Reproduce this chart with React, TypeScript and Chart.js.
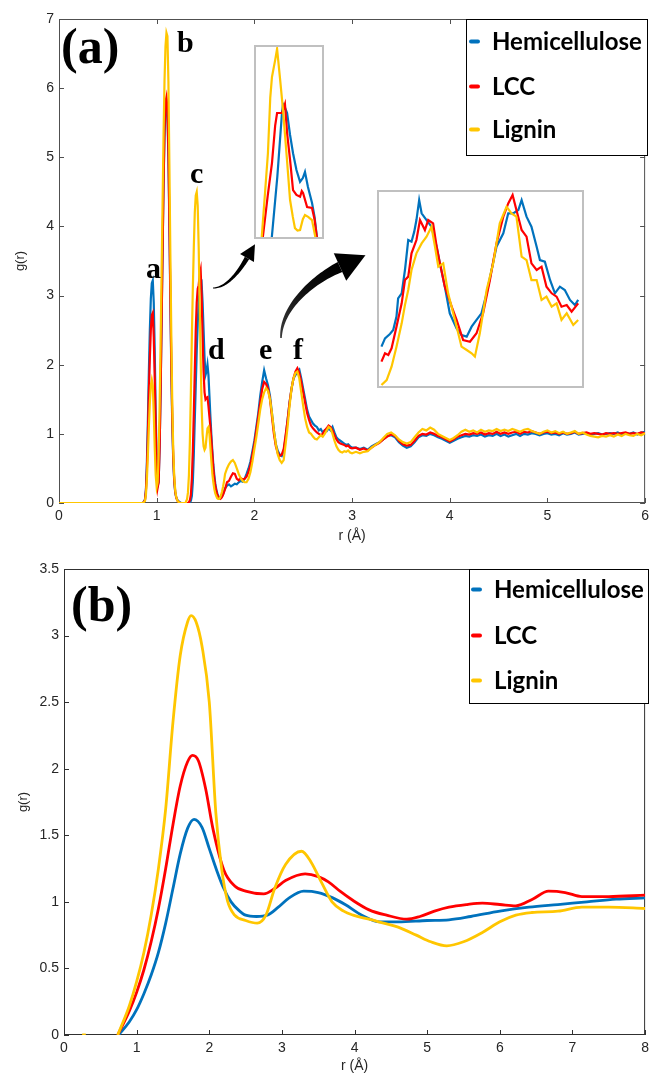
import { useEffect, useRef } from "react";
import { Chart, registerables } from "chart.js";

Chart.register(...registerables);

// ---------- colours ----------
const BLUE = "#0072BD";
const RED = "#FF0000";
const GOLD = "#FFC600";

const SERIES = ["Hemicellulose", "LCC", "Lignin"];

// ---------- panel (a): g(r) sampled on three r grids ----------
const R_A = [
  0.86, 0.87, 0.88, 0.89, 0.9, 0.91, 0.92, 0.93, 0.94, 0.95,
  0.96, 0.97, 0.98, 0.99, 1.0, 1.01, 1.02, 1.03, 1.04, 1.05,
  1.06, 1.07, 1.08, 1.09, 1.1, 1.11, 1.12, 1.13, 1.14, 1.15,
  1.16, 1.17, 1.18, 1.19, 1.2, 1.21, 1.22, 1.23, 1.24, 1.25,
  1.26, 1.27, 1.28, 1.29, 1.3, 1.31, 1.32, 1.33, 1.34, 1.35,
  1.36, 1.37, 1.38, 1.39, 1.4, 1.41, 1.42, 1.43, 1.44, 1.45,
  1.46, 1.47, 1.48, 1.49, 1.5, 1.51, 1.52, 1.53, 1.54, 1.55,
  1.56, 1.57, 1.58, 1.59, 1.6, 1.61, 1.62, 1.63, 1.64, 1.65,
  1.66, 1.67, 1.68, 1.69, 1.7,
];
const R_B = [
  1.72, 1.74, 1.76, 1.78, 1.8, 1.82, 1.84, 1.86, 1.88, 1.9,
  1.92, 1.94, 1.96, 1.98, 2.0, 2.02, 2.04, 2.06, 2.08, 2.1,
  2.12, 2.14, 2.16, 2.18, 2.2, 2.22, 2.24, 2.26, 2.28, 2.3,
  2.32, 2.34, 2.36, 2.38, 2.4, 2.42, 2.44, 2.46, 2.48, 2.5,
  2.52, 2.54, 2.56, 2.58, 2.6, 2.62, 2.64, 2.66, 2.68, 2.7,
  2.72, 2.74, 2.76, 2.78, 2.8, 2.82, 2.84, 2.86, 2.88, 2.9,
  2.92, 2.94, 2.96, 2.98, 3.0,
];
const R_C = [
  3.04, 3.08, 3.12, 3.16, 3.2, 3.24, 3.28, 3.32, 3.36, 3.4,
  3.44, 3.48, 3.52, 3.56, 3.6, 3.64, 3.68, 3.72, 3.76, 3.8,
  3.84, 3.88, 3.92, 3.96, 4.0, 4.04, 4.08, 4.12, 4.16, 4.2,
  4.24, 4.28, 4.32, 4.36, 4.4, 4.44, 4.48, 4.52, 4.56, 4.6,
  4.64, 4.68, 4.72, 4.76, 4.8, 4.84, 4.88, 4.92, 4.96, 5.0,
  5.04, 5.08, 5.12, 5.16, 5.2, 5.24, 5.28, 5.32, 5.36, 5.4,
  5.44, 5.48, 5.52, 5.56, 5.6, 5.64, 5.68, 5.72, 5.76, 5.8,
  5.84, 5.88, 5.92, 5.96, 6.0,
];

const HEMI_A = [
  0, 0, 0.05, 0.2, 0.6, 1.2, 1.9, 2.5, 2.95, 3.18,
  3.22, 2.9, 2.2, 1.3, 0.6, 0.25, 0.3, 0.8, 1.6, 2.6,
  3.6, 4.6, 5.3, 5.7, 5.78, 5.6, 5.0, 4.0, 2.9, 1.9,
  1.1, 0.6, 0.3, 0.15, 0.08, 0.05, 0.03, 0.02, 0.01, 0,
  0, 0, 0, 0, 0, 0, 0, 0, 0.01, 0.03,
  0.1, 0.3, 0.7, 1.2, 1.7, 2.2, 2.6, 2.9, 3.1, 3.15,
  3.18, 2.9, 2.5, 2.1, 1.85, 1.9, 2.0, 1.85, 1.55, 1.25,
  0.98, 0.75, 0.55, 0.4, 0.28, 0.2, 0.14, 0.1, 0.08, 0.07,
  0.08, 0.1, 0.13, 0.17, 0.21,
];
const LCC_A = [
  0, 0, 0.04, 0.18, 0.5, 1.0, 1.6, 2.1, 2.5, 2.72,
  2.75, 2.4, 1.8, 1.1, 0.5, 0.22, 0.3, 0.8, 1.6, 2.6,
  3.6, 4.6, 5.4, 5.8, 5.87, 5.7, 5.1, 4.1, 3.0, 2.0,
  1.2, 0.65, 0.32, 0.16, 0.08, 0.04, 0.02, 0.01, 0, 0,
  0, 0, 0, 0, 0, 0, 0, 0.01, 0.04, 0.12,
  0.35, 0.75, 1.3, 1.9, 2.5, 2.9, 3.1, 3.15, 3.3, 3.37,
  3.0, 2.4, 1.9, 1.6, 1.5, 1.52, 1.53, 1.4, 1.25, 1.1,
  0.9, 0.7, 0.5, 0.35, 0.25, 0.18, 0.12, 0.09, 0.07, 0.06,
  0.07, 0.09, 0.12, 0.16, 0.2,
];
const LIGNIN_A = [
  0, 0, 0.03, 0.12, 0.35, 0.7, 1.1, 1.45, 1.7, 1.78,
  1.7, 1.3, 0.8, 0.4, 0.23, 0.3, 0.7, 1.4, 2.3, 3.3,
  4.3, 5.3, 6.1, 6.6, 6.8, 6.75, 6.1, 4.9, 3.6, 2.4,
  1.4, 0.75, 0.38, 0.18, 0.09, 0.04, 0.02, 0.01, 0, 0,
  0, 0, 0, 0, 0.02, 0.05, 0.15, 0.4, 0.9, 1.6,
  2.4, 3.1, 3.7, 4.2, 4.45, 4.5, 4.3, 3.7, 2.9, 2.1,
  1.4, 1.0, 0.82, 0.77, 0.8, 0.95, 1.08, 1.1, 1.0, 0.8,
  0.6, 0.42, 0.3, 0.2, 0.14, 0.1, 0.07, 0.06, 0.06, 0.08,
  0.12, 0.17, 0.24, 0.32, 0.42,
];

const HEMI_B = [
  0.25, 0.27, 0.24, 0.26, 0.28, 0.27, 0.3, 0.32, 0.31, 0.35,
  0.42, 0.5, 0.6, 0.75, 0.9, 1.1, 1.3, 1.55, 1.75, 1.92,
  1.8, 1.7, 1.55, 1.3, 1.05, 0.85, 0.75, 0.7, 0.68, 0.75,
  0.95, 1.2, 1.45, 1.65, 1.8, 1.85, 1.9, 1.93, 1.8, 1.65,
  1.5, 1.35, 1.25, 1.2, 1.15, 1.12, 1.1, 1.05, 1.07, 1.02,
  1.05, 1.04, 1.08, 1.05, 1.1, 1.02, 0.95, 0.92, 0.9, 0.88,
  0.86, 0.84, 0.85, 0.82, 0.8,
];
const LCC_B = [
  0.3, 0.32, 0.38, 0.43, 0.42, 0.35, 0.33, 0.36, 0.34, 0.35,
  0.38, 0.45, 0.55, 0.7, 0.85, 1.05, 1.25, 1.45, 1.65, 1.75,
  1.72, 1.65, 1.5, 1.25, 1.0, 0.82, 0.72, 0.68, 0.7, 0.78,
  0.98, 1.2, 1.45, 1.65, 1.8, 1.9, 1.95, 1.88, 1.75, 1.6,
  1.45, 1.3, 1.2, 1.12, 1.08, 1.05, 1.02, 1.0, 0.98, 1.0,
  1.05, 1.08, 1.12, 1.1, 1.05, 0.98, 0.92, 0.88, 0.86, 0.85,
  0.84, 0.82, 0.83, 0.8, 0.79,
];
const LIGNIN_B = [
  0.5, 0.56, 0.6, 0.62, 0.58, 0.5, 0.42, 0.36, 0.32, 0.3,
  0.3, 0.35, 0.45, 0.6, 0.78, 0.95, 1.15, 1.35, 1.5, 1.6,
  1.66, 1.62, 1.5, 1.3, 1.05, 0.85, 0.7, 0.62, 0.58, 0.62,
  0.85, 1.1, 1.4, 1.65, 1.8, 1.88, 1.9, 1.8, 1.6, 1.4,
  1.22, 1.1, 1.02, 1.0, 0.96, 0.93, 0.92, 0.95, 0.98, 0.96,
  1.0, 1.05, 1.1, 1.08, 1.0, 0.9, 0.82, 0.77, 0.74, 0.73,
  0.75, 0.74, 0.76, 0.73, 0.72,
];

const HEMI_C = [
  0.8, 0.78, 0.8, 0.77, 0.82, 0.85, 0.88, 0.92, 0.97, 0.98,
  0.95, 0.88, 0.83, 0.8, 0.82, 0.88, 0.95, 0.98, 0.97, 1.0,
  0.98, 0.95, 0.93, 0.9, 0.87, 0.9, 0.93, 0.95, 0.97, 0.96,
  0.98, 0.97, 0.99, 0.96, 0.98, 0.97, 1.0, 0.97, 0.99, 0.96,
  0.98, 1.0, 0.97, 1.0, 0.99, 1.01, 1.0, 0.98, 1.0, 1.01,
  0.99, 1.0, 0.98, 1.01, 0.99, 1.0, 1.02, 0.99, 1.0, 1.01,
  0.99, 1.0, 1.01, 0.99, 1.0, 1.01, 1.0, 1.02, 0.99, 1.01,
  1.0, 1.02, 0.99, 1.02, 1.03,
];
const LCC_C = [
  0.8, 0.77, 0.79, 0.76, 0.8, 0.84, 0.87, 0.92, 0.96, 0.99,
  0.97, 0.9, 0.85, 0.83, 0.84, 0.9, 0.97, 1.0, 0.99, 1.02,
  1.0, 0.97, 0.95, 0.92, 0.89, 0.92, 0.96, 0.98, 1.0, 0.99,
  1.01, 1.0, 1.02, 0.99, 1.01, 1.0, 1.03, 1.0, 1.02, 1.0,
  1.02, 1.03, 1.0, 1.03, 1.02, 1.04, 1.02, 1.0, 1.02, 1.03,
  1.01, 1.02, 1.0, 1.02, 1.0, 1.01, 1.03, 1.0, 1.01, 1.02,
  1.0, 1.01, 1.0, 0.99, 1.01, 1.0, 1.01, 1.0, 1.01, 1.02,
  1.0, 1.01, 1.0, 1.02, 1.01,
];
const LIGNIN_C = [
  0.74, 0.72, 0.74, 0.75, 0.8, 0.84, 0.88, 0.94, 1.0, 1.02,
  0.98, 0.92, 0.88, 0.86, 0.88, 0.95, 1.02, 1.07, 1.05, 1.09,
  1.06, 1.0, 0.97, 0.94, 0.91, 0.94, 0.98, 1.03, 1.06, 1.03,
  1.05, 1.02, 1.06, 1.03, 1.05, 1.04, 1.07, 1.04, 1.06, 1.04,
  1.07, 1.05, 1.03, 1.06, 1.07, 1.04, 1.02, 1.0, 1.03, 1.05,
  1.02, 1.04, 1.01, 1.03, 1.0, 1.02, 1.04, 1.0, 1.02, 0.99,
  0.97, 0.96, 0.95, 0.97, 0.96, 0.98, 0.96, 0.99, 0.97, 1.0,
  0.98, 0.97, 1.0, 0.98, 1.01,
];

// ---------- close-up of peak c (r, g) ----------
const ZOOM_C_HEMI = [
  [1.377, 0.4], [1.405, 1.8], [1.427, 3.17], [1.432, 3.36], [1.44, 3.3], [1.451, 3.17],
  [1.465, 2.7], [1.479, 2.31], [1.495, 1.95], [1.512, 1.7], [1.525, 1.78], [1.535, 1.91],
  [1.549, 1.59], [1.568, 1.25], [1.58, 0.95], [1.594, 0.4],
];
const ZOOM_C_LCC = [
  [1.334, 0.4], [1.36, 1.4], [1.38, 2.1], [1.395, 2.9], [1.404, 3.17], [1.427, 3.17],
  [1.441, 3.36], [1.452, 2.7], [1.465, 2.17], [1.479, 1.52], [1.495, 1.42], [1.512, 1.38],
  [1.52, 1.5], [1.526, 1.46], [1.545, 1.16], [1.568, 1.14], [1.58, 0.9], [1.594, 0.4],
];
const ZOOM_C_LIGNIN = [
  [1.33, 0.4], [1.348, 1.5], [1.361, 2.31], [1.372, 3.5], [1.38, 3.94], [1.395, 4.3],
  [1.404, 4.54], [1.418, 3.9], [1.432, 3.23], [1.45, 2.2], [1.465, 1.31], [1.478, 0.95],
  [1.488, 0.71], [1.5, 0.66], [1.512, 0.67], [1.525, 0.9], [1.535, 0.99], [1.55, 0.95],
  [1.568, 0.88], [1.589, 0.4],
];

// ---------- close-up of peaks e and f (r, g) ----------
const ZOOM_EF_HEMI = [
  [1.963, 0.592], [1.976, 0.667], [1.994, 0.707], [2.006, 0.743], [2.018, 0.864], [2.024, 1.03],
  [2.037, 1.075], [2.049, 1.286], [2.061, 1.557], [2.073, 1.542], [2.083, 1.633], [2.091, 1.738],
  [2.101, 1.919], [2.11, 1.799], [2.128, 1.738], [2.146, 1.678], [2.165, 1.497], [2.177, 1.346],
  [2.195, 1.135], [2.213, 0.894], [2.238, 0.758], [2.256, 0.698], [2.275, 0.683], [2.293, 0.773],
  [2.311, 0.834], [2.329, 0.894], [2.348, 1.075], [2.366, 1.286], [2.384, 1.497], [2.409, 1.618],
  [2.427, 1.799], [2.445, 1.799], [2.464, 1.829], [2.476, 1.919], [2.494, 1.769], [2.512, 1.678],
  [2.531, 1.497], [2.543, 1.376], [2.561, 1.361], [2.58, 1.196], [2.598, 1.075], [2.616, 1.135],
  [2.634, 1.105], [2.653, 1.015], [2.671, 0.969], [2.683, 1.015],
];
const ZOOM_EF_LCC = [
  [1.963, 0.456], [1.976, 0.532], [1.988, 0.517], [2.0, 0.577], [2.018, 0.773], [2.037, 0.984],
  [2.049, 1.195], [2.061, 1.226], [2.073, 1.437], [2.091, 1.557], [2.104, 1.738], [2.122, 1.648],
  [2.134, 1.738], [2.152, 1.708], [2.165, 1.497], [2.177, 1.346], [2.195, 1.135], [2.22, 0.954],
  [2.238, 0.834], [2.262, 0.652], [2.287, 0.637], [2.311, 0.713], [2.335, 0.894], [2.36, 1.195],
  [2.384, 1.527], [2.409, 1.769], [2.427, 1.889], [2.443, 1.965], [2.457, 1.829], [2.476, 1.648],
  [2.494, 1.588], [2.512, 1.346], [2.531, 1.286], [2.549, 1.316], [2.567, 1.135], [2.586, 1.075],
  [2.604, 1.045], [2.622, 0.954], [2.641, 0.969], [2.659, 0.909], [2.683, 0.984],
];
const ZOOM_EF_LIGNIN = [
  [1.963, 0.245], [1.982, 0.29], [2.0, 0.411], [2.018, 0.592], [2.037, 0.803], [2.049, 0.969],
  [2.061, 1.105], [2.073, 1.286], [2.091, 1.437], [2.11, 1.527], [2.128, 1.588], [2.146, 1.678],
  [2.159, 1.497], [2.171, 1.316], [2.189, 1.346], [2.207, 1.075], [2.232, 0.834], [2.256, 0.592],
  [2.275, 0.562], [2.293, 0.532], [2.305, 0.502], [2.323, 0.713], [2.348, 1.105], [2.372, 1.346],
  [2.396, 1.708], [2.421, 1.859], [2.439, 1.799], [2.457, 1.769], [2.476, 1.407], [2.494, 1.376],
  [2.512, 1.195], [2.531, 1.195], [2.549, 1.015], [2.567, 1.045], [2.586, 0.954], [2.604, 0.984],
  [2.622, 0.834], [2.641, 0.894], [2.665, 0.788], [2.683, 0.834],
];

// ---------- panel (b): smooth g(r) curves (r, g) ----------
const HEMI_RDF = [
  [0.75, 0], [0.9, 0.1], [1.0, 0.19], [1.1, 0.31], [1.2, 0.45], [1.3, 0.62], [1.4, 0.84],
  [1.5, 1.1], [1.6, 1.36], [1.7, 1.55], [1.79, 1.62], [1.9, 1.56], [2.0, 1.4], [2.1, 1.24],
  [2.2, 1.1], [2.3, 1.0], [2.4, 0.94], [2.5, 0.9], [2.65, 0.89], [2.8, 0.9], [2.95, 0.96],
  [3.1, 1.03], [3.3, 1.08], [3.5, 1.07], [3.7, 1.03], [3.87, 0.98], [4.1, 0.9], [4.35, 0.85],
  [4.6, 0.85], [5.0, 0.86], [5.3, 0.865], [5.6, 0.89], [6.0, 0.93], [6.4, 0.96], [6.8, 0.98],
  [7.2, 1.0], [7.6, 1.02], [8.0, 1.03],
];
const LCC_RDF = [
  [0.74, 0], [0.9, 0.18], [1.0, 0.32], [1.1, 0.49], [1.2, 0.7], [1.3, 0.95], [1.4, 1.25],
  [1.5, 1.58], [1.6, 1.87], [1.7, 2.05], [1.77, 2.1], [1.85, 2.06], [1.95, 1.85], [2.05, 1.55],
  [2.2, 1.24], [2.35, 1.12], [2.5, 1.08], [2.75, 1.06], [2.9, 1.1], [3.05, 1.16], [3.32, 1.21],
  [3.5, 1.19], [3.64, 1.15], [3.8, 1.08], [3.98, 1.01], [4.2, 0.94], [4.44, 0.9], [4.72, 0.87],
  [4.9, 0.89], [5.1, 0.93], [5.3, 0.96], [5.55, 0.98], [5.76, 0.99], [6.0, 0.98], [6.22, 0.97],
  [6.45, 1.02], [6.67, 1.08], [6.9, 1.07], [7.13, 1.04], [7.5, 1.04], [8.0, 1.05],
];
const LIGNIN_RDF = [
  [0.25, 0], [0.3, 0], [0.5, null], [0.74, 0], [0.9, 0.22], [1.0, 0.4], [1.1, 0.62], [1.2, 0.9],
  [1.3, 1.25], [1.4, 1.7], [1.5, 2.35], [1.6, 2.85], [1.7, 3.1], [1.75, 3.15], [1.82, 3.1],
  [1.9, 2.92], [2.0, 2.5], [2.09, 1.67], [2.17, 1.25], [2.25, 1.01], [2.35, 0.9], [2.5, 0.86],
  [2.66, 0.84], [2.78, 0.9], [2.9, 1.1], [3.05, 1.28], [3.27, 1.38], [3.4, 1.3], [3.55, 1.14],
  [3.69, 1.0], [3.85, 0.93], [3.98, 0.9], [4.2, 0.87], [4.4, 0.84], [4.6, 0.81], [4.85, 0.75],
  [5.05, 0.7], [5.27, 0.67], [5.5, 0.7], [5.76, 0.77], [6.0, 0.85], [6.22, 0.9], [6.44, 0.92],
  [6.8, 0.93], [7.13, 0.96], [7.5, 0.96], [8.0, 0.95],
];

// ---------- helpers ----------
const zipXY = (xs: number[], ys: number[]) => xs.map((x, i) => ({ x, y: ys[i] }));
const pairs = (list: any[]) => list.map(([x, y]) => ({ x, y }));

const TICK_FONT = { family: "'Liberation Sans', Arial, sans-serif", size: 14 };
const TICK_COLOR = "#262626";

function lineSet(label: string, color: string, data: any[], width: number, order: number, extra: any = {}) {
  return {
    label,
    data,
    borderColor: color,
    backgroundColor: color,
    borderWidth: width,
    pointRadius: 0,
    fill: false,
    tension: 0,
    order,
    ...extra,
  };
}

// frame round the plot area with inward tick marks
function framePlugin(color: string, mirror: boolean) {
  return {
    id: "frame",
    beforeDatasetsDraw(chart: any) {
      const { ctx, chartArea: a, scales } = chart;
      const L = 5;
      ctx.save();
      ctx.strokeStyle = color;
      ctx.lineWidth = 1;
      ctx.strokeRect(a.left + 0.5, a.top + 0.5, a.right - a.left - 1, a.bottom - a.top - 1);
      ctx.beginPath();
      scales.x.ticks.forEach((t: any) => {
        const p = Math.round(scales.x.getPixelForValue(t.value)) + 0.5;
        ctx.moveTo(p, a.bottom);
        ctx.lineTo(p, a.bottom - L);
        if (mirror) {
          ctx.moveTo(p, a.top);
          ctx.lineTo(p, a.top + L);
        }
      });
      scales.y.ticks.forEach((t: any) => {
        const p = Math.round(scales.y.getPixelForValue(t.value)) + 0.5;
        ctx.moveTo(a.left, p);
        ctx.lineTo(a.left + L, p);
        if (mirror) {
          ctx.moveTo(a.right, p);
          ctx.lineTo(a.right - L, p);
        }
      });
      ctx.stroke();
      ctx.restore();
    },
  };
}

function drawAxisTitles(ctx: any, a: any, xTitleY: number, yTitleX: number) {
  ctx.save();
  ctx.fillStyle = TICK_COLOR;
  ctx.font = "14px 'Liberation Sans', Arial, sans-serif";
  ctx.textAlign = "center";
  ctx.textBaseline = "middle";
  ctx.fillText("r (Å)", (a.left + a.right) / 2, xTitleY);
  ctx.translate(yTitleX, (a.top + a.bottom) / 2);
  ctx.rotate(-Math.PI / 2);
  ctx.font = "13px 'Liberation Sans', Arial, sans-serif";
  ctx.fillText("g(r)", 0, 0);
  ctx.restore();
}

function drawLegend(ctx: any, datasets: any[], box: any, baselines: number[], dashX: number, textX: number) {
  ctx.save();
  ctx.fillStyle = "#fff";
  ctx.fillRect(box.x, box.y, box.w, box.h);
  ctx.strokeStyle = "#000";
  ctx.lineWidth = 1;
  ctx.strokeRect(box.x + 0.5, box.y + 0.5, box.w - 1, box.h - 1);
  ctx.font = "bold 24px Lato, 'Open Sans', sans-serif";
  ctx.textBaseline = "alphabetic";
  ctx.lineCap = "round";
  datasets.forEach((ds, i) => {
    const y = baselines[i];
    ctx.strokeStyle = ds.borderColor;
    ctx.lineWidth = 4;
    ctx.beginPath();
    ctx.moveTo(dashX, y - 8.5);
    ctx.lineTo(dashX + 7, y - 8.5);
    ctx.stroke();
    ctx.fillStyle = "#000";
    ctx.fillText(ds.label, textX, y);
  });
  ctx.restore();
}

function bez(p: number[][], t: number) {
  const u = 1 - t;
  const a = u * u * u, b = 3 * u * u * t, c = 3 * u * t * t, d = t * t * t;
  return [
    a * p[0][0] + b * p[1][0] + c * p[2][0] + d * p[3][0],
    a * p[0][1] + b * p[1][1] + c * p[2][1] + d * p[3][1],
  ];
}
function bezD(p: number[][], t: number) {
  const u = 1 - t;
  const dx = 3 * u * u * (p[1][0] - p[0][0]) + 6 * u * t * (p[2][0] - p[1][0]) + 3 * t * t * (p[3][0] - p[2][0]);
  const dy = 3 * u * u * (p[1][1] - p[0][1]) + 6 * u * t * (p[2][1] - p[1][1]) + 3 * t * t * (p[3][1] - p[2][1]);
  const l = Math.hypot(dx, dy) || 1;
  return [dx / l, dy / l];
}

// curved, tapering arrow along a cubic Bezier
function drawCurvedArrow(ctx: any, p: number[][], w0: number, w1: number, headHalf: number, headLen: number, dark: boolean) {
  const N = 40;
  const left: number[][] = [];
  const right: number[][] = [];
  for (let i = 0; i <= N; i++) {
    const t = i / N;
    const q = bez(p, t);
    const d = bezD(p, t);
    const w = w0 + (w1 - w0) * t;
    left.push([q[0] - d[1] * w, q[1] + d[0] * w]);
    right.push([q[0] + d[1] * w, q[1] - d[0] * w]);
  }
  ctx.save();
  let fill: any = "#000";
  if (dark) {
    const g = ctx.createLinearGradient(p[0][0], p[0][1], p[3][0], p[3][1]);
    g.addColorStop(0, "#3a3a3a");
    g.addColorStop(0.6, "#0c0c0c");
    g.addColorStop(1, "#000");
    fill = g;
  }
  ctx.fillStyle = fill;
  ctx.beginPath();
  ctx.moveTo(left[0][0], left[0][1]);
  left.forEach((pt) => ctx.lineTo(pt[0], pt[1]));
  for (let i = right.length - 1; i >= 0; i--) ctx.lineTo(right[i][0], right[i][1]);
  ctx.closePath();
  ctx.fill();
  const e = p[3];
  const d = bezD(p, 1);
  ctx.fillStyle = "#000";
  ctx.beginPath();
  ctx.moveTo(e[0] - d[1] * headHalf, e[1] + d[0] * headHalf);
  ctx.lineTo(e[0] + d[0] * headLen, e[1] + d[1] * headLen);
  ctx.lineTo(e[0] + d[1] * headHalf, e[1] - d[0] * headHalf);
  ctx.closePath();
  ctx.fill();
  ctx.restore();
}

function drawSerif(ctx: any, text: string, x: number, y: number, size: number) {
  ctx.save();
  ctx.fillStyle = "#000";
  ctx.font = `bold ${size}px 'Liberation Serif', 'Times New Roman', serif`;
  ctx.textBaseline = "alphabetic";
  ctx.textAlign = "left";
  ctx.fillText(text, x, y);
  ctx.restore();
}

const PEAK_LABELS = [
  { t: "a", x: 146, y: 278 },
  { t: "b", x: 177, y: 52 },
  { t: "c", x: 190, y: 183 },
  { t: "d", x: 208, y: 359 },
  { t: "e", x: 259, y: 359 },
  { t: "f", x: 293, y: 359 },
];

const decorTop = {
  id: "decorTop",
  afterDraw(chart: any) {
    const { ctx, chartArea: a } = chart;
    drawAxisTitles(ctx, a, 536, 20);
    drawSerif(ctx, "(a)", 61, 63, 50);
    PEAK_LABELS.forEach((p) => drawSerif(ctx, p.t, p.x, p.y, 30));
    drawCurvedArrow(ctx, [[213, 288], [228, 288], [241, 268.4], [247, 258]], 0.5, 2.5, 8, 16, false);
    drawCurvedArrow(ctx, [[281, 338], [281, 305], [317, 277.5], [340, 267]], 0.8, 5.5, 15, 28, true);
    drawLegend(ctx, chart.data.datasets, { x: 466, y: 19, w: 182, h: 137 }, [50, 95, 138], 471, 492);
  },
};

const decorBottom = {
  id: "decorBottom",
  afterDraw(chart: any) {
    const { ctx, chartArea: a } = chart;
    drawAxisTitles(ctx, a, 521, 23);
    drawSerif(ctx, "(b)", 71, 76, 50);
    drawLegend(ctx, chart.data.datasets, { x: 469, y: 24, w: 180, h: 135 }, [53, 99, 144], 473, 494);
  },
};

function axisOptions(min: number, max: number, step: number, fit: (s: any) => void) {
  return {
    type: "linear",
    min,
    max,
    ticks: {
      stepSize: step,
      font: TICK_FONT,
      color: TICK_COLOR,
      padding: 5,
      maxRotation: 0,
      autoSkip: false,
      callback: (v: any) => `${Number(v)}`,
    },
    grid: { display: false, drawTicks: false },
    border: { display: false },
    afterFit: fit,
  };
}

function insetOptions(xmin: number, xmax: number, ymin: number, ymax: number) {
  return {
    responsive: false,
    animation: false,
    events: [],
    layout: { padding: 0 },
    plugins: { legend: { display: false }, tooltip: { enabled: false } },
    scales: {
      x: { type: "linear", display: false, min: xmin, max: xmax },
      y: { type: "linear", display: false, min: ymin, max: ymax },
    },
  };
}

export default function App() {
  const topRef = useRef<HTMLCanvasElement>(null);
  const bottomRef = useRef<HTMLCanvasElement>(null);
  const zoomCRef = useRef<HTMLCanvasElement>(null);
  const zoomEFRef = useRef<HTMLCanvasElement>(null);

  useEffect(() => {
    const charts: Chart[] = [];

    const top = (xs: number[][], ys: number[][]) =>
      [{ x: 0, y: 0 }, ...zipXY(xs[0], ys[0]), ...zipXY(xs[1], ys[1]), ...zipXY(xs[2], ys[2])];
    const grids = [R_A, R_B, R_C];

    charts.push(
      new Chart(topRef.current as HTMLCanvasElement, {
        type: "line",
        data: {
          datasets: [
            lineSet(SERIES[0], BLUE, top(grids, [HEMI_A, HEMI_B, HEMI_C]), 2.2, 2),
            lineSet(SERIES[1], RED, top(grids, [LCC_A, LCC_B, LCC_C]), 2.2, 1),
            lineSet(SERIES[2], GOLD, top(grids, [LIGNIN_A, LIGNIN_B, LIGNIN_C]), 2.2, 0),
          ],
        },
        options: {
          responsive: false,
          animation: false,
          events: [],
          layout: { padding: { top: 19, right: 7, left: 0, bottom: 0 } },
          plugins: { legend: { display: false }, tooltip: { enabled: false } },
          scales: {
            x: axisOptions(0, 6, 1, (s: any) => { s.height = 42; }),
            y: axisOptions(0, 7, 1, (s: any) => { s.width = 59; }),
          },
        } as any,
        plugins: [framePlugin("#505050", true), decorTop],
      } as any)
    );

    charts.push(
      new Chart(bottomRef.current as HTMLCanvasElement, {
        type: "line",
        data: {
          datasets: [
            lineSet(SERIES[0], BLUE, pairs(HEMI_RDF), 2.8, 2, { cubicInterpolationMode: "monotone" }),
            lineSet(SERIES[1], RED, pairs(LCC_RDF), 2.8, 1, { cubicInterpolationMode: "monotone" }),
            lineSet(SERIES[2], GOLD, pairs(LIGNIN_RDF), 2.8, 0, { cubicInterpolationMode: "monotone" }),
          ],
        },
        options: {
          responsive: false,
          animation: false,
          events: [],
          layout: { padding: { top: 24, right: 6, left: 0, bottom: 0 } },
          plugins: { legend: { display: false }, tooltip: { enabled: false } },
          scales: {
            x: axisOptions(0, 8, 1, (s: any) => { s.height = 38; }),
            y: axisOptions(0, 3.5, 0.5, (s: any) => { s.width = 64; }),
          },
        } as any,
        plugins: [framePlugin("#303030", false), decorBottom],
      } as any)
    );

    charts.push(
      new Chart(zoomCRef.current as HTMLCanvasElement, {
        type: "line",
        data: {
          datasets: [
            lineSet(SERIES[0], BLUE, pairs(ZOOM_C_HEMI), 2.2, 2),
            lineSet(SERIES[1], RED, pairs(ZOOM_C_LCC), 2.2, 1),
            lineSet(SERIES[2], GOLD, pairs(ZOOM_C_LIGNIN), 2.2, 0),
          ],
        },
        options: insetOptions(1.305, 1.615, 0.52, 4.58),
      } as any)
    );

    charts.push(
      new Chart(zoomEFRef.current as HTMLCanvasElement, {
        type: "line",
        data: {
          datasets: [
            lineSet(SERIES[0], BLUE, pairs(ZOOM_EF_HEMI), 2.2, 2),
            lineSet(SERIES[1], RED, pairs(ZOOM_EF_LCC), 2.2, 1),
            lineSet(SERIES[2], GOLD, pairs(ZOOM_EF_LIGNIN), 2.2, 0),
          ],
        },
        options: insetOptions(1.954, 2.697, 0.236, 1.992),
      } as any)
    );

    return () => charts.forEach((c) => c.destroy());
  }, []);

  return (
    <div style={{ position: "absolute", left: 0, top: 0, width: 654, height: 1073, background: "#fff", overflow: "hidden" }}>
      <canvas ref={topRef} width={654} height={545} style={{ position: "absolute", left: 0, top: 0 }} />
      <canvas ref={bottomRef} width={654} height={528} style={{ position: "absolute", left: 0, top: 545 }} />
      <div style={{ position: "absolute", left: 254, top: 45, width: 66, height: 190, border: "2px solid #c0c0c0", background: "#fff" }}>
        <canvas ref={zoomCRef} width={66} height={190} style={{ display: "block" }} />
      </div>
      <div style={{ position: "absolute", left: 377, top: 190, width: 203, height: 194, border: "2px solid #c0c0c0", background: "#fff" }}>
        <canvas ref={zoomEFRef} width={203} height={194} style={{ display: "block" }} />
      </div>
    </div>
  );
}
